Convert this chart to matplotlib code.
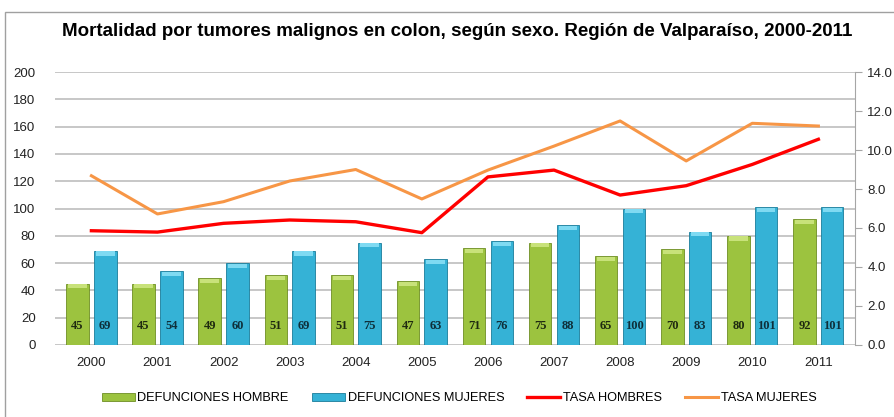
import numpy as np
import matplotlib.pyplot as plt
from matplotlib.patches import Rectangle

years = ['2000', '2001', '2002', '2003', '2004', '2005',
         '2006', '2007', '2008', '2009', '2010', '2011']
def_hombre = [45, 45, 49, 51, 51, 47, 71, 75, 65, 70, 80, 92]
def_mujeres = [69, 54, 60, 69, 75, 63, 76, 88, 100, 83, 101, 101]
tasa_hombres = [5.86, 5.79, 6.24, 6.41, 6.32, 5.76, 8.62, 8.97, 7.69, 8.17, 9.26, 10.55]
tasa_mujeres = [8.68, 6.72, 7.35, 8.41, 9.0, 7.49, 8.97, 10.2, 11.49, 9.44, 11.37, 11.23]

plt.rcParams['font.family'] = ['Liberation Sans', 'DejaVu Sans']

fig = plt.figure(figsize=(8.95, 4.17), dpi=100)
ax = fig.add_axes([0.0615, 0.1727, 0.8935, 0.6546])
ax2 = ax.twinx()

x = np.arange(len(years))
w = 0.34
green = '#9CC33F'
green_dk = '#6E8E23'
blue = '#35B2D6'
blue_dk = '#1A7D9A'

b1 = ax.bar(x - 0.21, def_hombre, w, color=green, edgecolor=green_dk, linewidth=0.6,
            label='DEFUNCIONES HOMBRE', zorder=3)
b2 = ax.bar(x + 0.21, def_mujeres, w, color=blue, edgecolor=blue_dk, linewidth=0.6,
            label='DEFUNCIONES MUJERES', zorder=3)

# lighter cap on top of each bar
for bars, cap in ((b1, '#C8E27A'), (b2, '#7FDAF2')):
    for r in bars:
        ax.add_patch(Rectangle((r.get_x() + 0.03, r.get_height() - 3.5), r.get_width() - 0.06, 3,
                               color=cap, zorder=4, linewidth=0))

for i in range(len(years)):
    ax.annotate(str(def_hombre[i]), (x[i] - 0.21, 0), xytext=(0, 14), textcoords='offset points',
                ha='center', va='center', fontsize=9, fontweight='bold', color='#1F2A10',
                family='Liberation Serif', zorder=5)
    ax.annotate(str(def_mujeres[i]), (x[i] + 0.21, 0), xytext=(0, 14), textcoords='offset points',
                ha='center', va='center', fontsize=9, fontweight='bold', color='#0E2F3A',
                family='Liberation Serif', zorder=5)

ax.set_ylim(0, 200)
ax.set_yticks(range(0, 201, 20))
ax.set_xlim(-0.55, 11.55)
ax.set_xticks(x)
ax.set_xticklabels(years)
ax.grid(axis='y', color='#BDBDBD', linewidth=1.2, zorder=0)
ax.set_axisbelow(True)
for s in ['left', 'top', 'right', 'bottom']:
    ax.spines[s].set_visible(False)
ax.tick_params(axis='y', length=0, labelsize=9.5, colors='#222222', pad=14)
ax.tick_params(axis='x', length=0, labelsize=9.5, colors='#222222', pad=9)

l1, = ax2.plot(x, tasa_hombres, color='#FF0000', linewidth=2.4, label='TASA HOMBRES', zorder=6)
l2, = ax2.plot(x, tasa_mujeres, color='#F79646', linewidth=2.2, label='TASA MUJERES', zorder=6)
ax2.set_ylim(0, 14)
ax2.set_yticks(np.arange(0, 14.1, 2))
ax2.set_yticklabels(['%.1f' % v for v in np.arange(0, 14.1, 2)])
for s in ['left', 'top', 'bottom']:
    ax2.spines[s].set_visible(False)
ax2.spines['right'].set_color('#A6A6A6')
ax2.tick_params(axis='y', length=5, color='#A6A6A6', labelsize=9.5, labelcolor='#222222', pad=4)

fig.text(0.511, 0.925, 'Mortalidad por tumores malignos en colon, según sexo. Región de Valparaíso, 2000-2011',
         ha='center', va='center', fontsize=13.5, fontweight='bold', color='black')

fig.legend([b1, b2, l1, l2], ['DEFUNCIONES HOMBRE', 'DEFUNCIONES MUJERES', 'TASA HOMBRES', 'TASA MUJERES'],
           loc='center', bbox_to_anchor=(0.513, 0.045), ncol=4, frameon=False, fontsize=9.2,
           handlelength=2.6, handleheight=0.6, columnspacing=1.8, handletextpad=0.2)

fig.add_artist(Rectangle((5 / 895, -0.05), 1.2, 1.05 - 12 / 417, transform=fig.transFigure,
                         fill=False, edgecolor='#A0A0A0', linewidth=1))

fig.savefig('out.png', dpi=100)
